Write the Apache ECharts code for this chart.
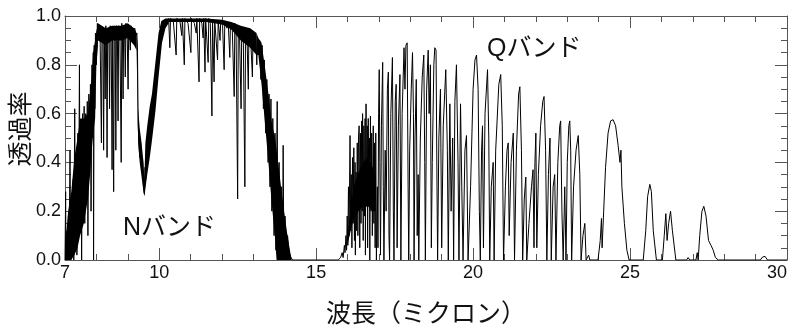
<!DOCTYPE html>
<html>
<head>
<meta charset="utf-8">
<script src="https://cdn.jsdelivr.net/npm/echarts@6/dist/echarts.min.js"></script>
<style>
  html, body { margin: 0; padding: 0; background: #fff; }
  #chart { width: 793px; height: 328px; }
</style>
</head>
<body>
<div id="chart"></div>
<script>
// 透過率スペクトル (波長 µm, 透過率) 画像から読み取った値
var nRiseLine = [[7.00,0.00],[7.02,0.28],[7.03,0.00],[7.06,0.12],[7.08,0.00],[7.11,0.18],[7.13,0.02],[7.16,0.45],[7.18,0.00],[7.21,0.25],[7.23,0.03],[7.26,0.33],[7.28,0.00],[7.31,0.62],[7.33,0.05],[7.36,0.40],[7.38,0.02],[7.41,0.52],[7.43,0.08],[7.46,0.80],[7.48,0.12],[7.50,0.55],[7.53,0.00],[7.56,0.60],[7.58,0.20],[7.61,0.63],[7.63,0.15],[7.66,0.60],[7.68,0.25],[7.71,0.65],[7.73,0.10],[7.76,0.68],[7.78,0.35],[7.81,0.72],[7.83,0.20],[7.86,0.80],[7.88,0.50],[7.90,0.85],[7.91,0.00],[7.93,0.88],[7.95,0.62],[7.97,0.93],[8.00,0.80],[8.03,0.97],[8.06,0.92]]
var nPlateauLine = [[8.08,0.96],[8.12,0.90],[8.16,0.48],[8.18,0.95],[8.21,0.90],[8.23,0.45],[8.25,0.94],[8.28,0.66],[8.30,0.96],[8.32,0.90],[8.34,0.42],[8.36,0.95],[8.40,0.91],[8.42,0.62],[8.44,0.96],[8.47,0.92],[8.50,0.37],[8.52,0.94],[8.55,0.28],[8.57,0.95],[8.60,0.91],[8.62,0.45],[8.64,0.96],[8.67,0.90],[8.69,0.57],[8.71,0.96],[8.75,0.92],[8.79,0.40],[8.81,0.97],[8.83,0.91],[8.85,0.66],[8.87,0.96],[8.90,0.92],[8.92,0.75],[8.94,0.97],[8.98,0.93],[9.01,0.70],[9.03,0.96],[9.06,0.92],[9.08,0.86],[9.10,0.96],[9.14,0.91],[9.17,0.95],[9.19,0.89],[9.22,0.95],[9.26,0.92],[9.29,0.93]]
var ozoneLine = [[9.31,0.85],[9.33,0.55],[9.35,0.50],[9.38,0.42],[9.41,0.48],[9.44,0.36],[9.47,0.42],[9.50,0.30],[9.53,0.27],[9.55,0.38],[9.57,0.33],[9.60,0.48],[9.63,0.39],[9.67,0.55],[9.71,0.47],[9.76,0.62],[9.80,0.56],[9.85,0.72],[9.90,0.70],[9.95,0.85],[10.00,0.82],[10.05,0.94],[10.10,0.92],[10.15,0.98],[10.22,0.96],[10.30,0.99]]
var nTopLine = [[10.34,0.87],[10.36,0.99],[10.45,0.98],[10.54,0.84],[10.56,0.99],[10.66,0.98],[10.72,0.92],[10.74,0.99],[10.80,0.80],[10.82,0.99],[10.92,0.97],[11.01,0.85],[11.03,0.99],[11.12,0.97],[11.18,0.93],[11.20,0.99],[11.27,0.73],[11.29,0.99],[11.36,0.97],[11.40,0.91],[11.42,0.99],[11.46,0.77],[11.48,0.99],[11.56,0.81],[11.58,0.99],[11.63,0.97],[11.68,0.59],[11.70,0.98],[11.75,0.73],[11.77,0.98],[11.86,0.82],[11.88,0.98],[11.94,0.90],[11.96,0.98],[12.02,0.96],[12.07,0.78],[12.09,0.98],[12.16,0.95],[12.20,0.97],[12.25,0.83],[12.27,0.97],[12.33,0.94],[12.39,0.67],[12.41,0.97],[12.45,0.93],[12.50,0.25],[12.52,0.96],[12.56,0.92],[12.61,0.62],[12.63,0.95],[12.68,0.91],[12.73,0.30],[12.75,0.95],[12.80,0.90],[12.84,0.70],[12.86,0.94],[12.92,0.89],[12.97,0.75],[12.99,0.93],[13.04,0.88],[13.08,0.92],[13.11,0.80],[13.13,0.91]]
var nFallLine = [[13.16,0.86],[13.20,0.90],[13.24,0.74],[13.28,0.88],[13.32,0.62],[13.35,0.82],[13.39,0.52],[13.43,0.74],[13.47,0.40],[13.50,0.68],[13.53,0.30],[13.56,0.66],[13.59,0.20],[13.62,0.58],[13.66,0.10],[13.69,0.52],[13.72,0.04],[13.76,0.65],[13.78,0.00],[13.82,0.40],[13.86,0.02],[13.90,0.30],[13.93,0.00],[13.95,0.47],[13.97,0.05],[14.01,0.18],[14.05,0.00],[14.09,0.10],[14.14,0.03],[14.20,0.01],[14.25,0.00],[15.70,0.00]]
var qRiseLine = [[15.78,0.01],[15.83,0.03],[15.86,0.01],[15.90,0.06],[15.92,0.03],[15.95,0.10],[15.97,0.04],[15.99,0.18],[16.01,0.06],[16.03,0.30],[16.05,0.10],[16.08,0.51],[16.10,0.12],[16.12,0.35],[16.14,0.05],[16.16,0.42],[16.18,0.15],[16.20,0.46],[16.22,0.08],[16.24,0.40],[16.25,0.02],[16.27,0.36],[16.29,0.12],[16.31,0.48],[16.33,0.10],[16.35,0.50],[16.37,0.55],[16.39,0.05],[16.41,0.52],[16.43,0.15],[16.45,0.57],[16.47,0.20],[16.48,0.60],[16.50,0.08],[16.52,0.55],[16.54,0.18],[16.56,0.58],[16.57,0.02],[16.59,0.64],[16.61,0.22],[16.63,0.55],[16.64,0.05],[16.66,0.58],[16.68,0.25],[16.70,0.50],[16.71,0.00],[16.73,0.59],[16.75,0.20],[16.77,0.52],[16.79,0.10],[16.82,0.55],[16.84,0.15],[16.86,0.48],[16.88,0.05],[16.90,0.52],[16.92,0.00],[16.95,0.30],[16.97,0.05]]
var qPeaksLine = [[16.99,0.60],[17.01,0.78],[17.03,0.40],[17.05,0.02],[17.08,0.55],[17.12,0.81],[17.14,0.30],[17.16,0.00],[17.20,0.45],[17.23,0.20],[17.27,0.70],[17.30,0.77],[17.32,0.10],[17.34,0.00],[17.38,0.60],[17.43,0.83],[17.46,0.20],[17.48,0.00],[17.52,0.65],[17.55,0.72],[17.58,0.05],[17.62,0.55],[17.67,0.76],[17.70,0.00],[17.74,0.60],[17.80,0.87],[17.83,0.70],[17.86,0.88],[17.90,0.89],[17.93,0.30],[17.95,0.00],[17.98,0.45],[18.03,0.70],[18.07,0.85],[18.10,0.60],[18.12,0.00],[18.15,0.50],[18.19,0.74],[18.22,0.10],[18.25,0.35],[18.27,0.00],[18.32,0.50],[18.38,0.75],[18.43,0.84],[18.46,0.40],[18.48,0.00],[18.52,0.70],[18.57,0.86],[18.60,0.60],[18.64,0.80],[18.67,0.05],[18.70,0.40],[18.75,0.80],[18.78,0.87],[18.82,0.86],[18.85,0.30],[18.87,0.00],[18.91,0.50],[18.96,0.70],[19.00,0.05],[19.05,0.55],[19.13,0.78],[19.18,0.45],[19.21,0.00],[19.26,0.64],[19.30,0.20],[19.35,0.50],[19.38,0.00],[19.42,0.65],[19.47,0.80],[19.52,0.40],[19.55,0.00],[19.60,0.64],[19.64,0.30],[19.68,0.00],[19.74,0.45],[19.79,0.51],[19.84,0.00],[19.92,0.30],[20.00,0.70],[20.06,0.82],[20.11,0.84],[20.16,0.70],[20.20,0.20],[20.23,0.00],[20.27,0.45],[20.30,0.55],[20.33,0.05],[20.38,0.60],[20.46,0.78],[20.50,0.50],[20.53,0.00],[20.58,0.30],[20.64,0.40],[20.67,0.00],[20.72,0.45],[20.82,0.72],[20.88,0.76],[20.93,0.55],[20.97,0.00],[21.03,0.30],[21.08,0.45],[21.12,0.48],[21.15,0.10],[21.21,0.40],[21.28,0.52],[21.32,0.00],[21.38,0.45],[21.45,0.68],[21.49,0.71],[21.54,0.45],[21.58,0.00],[21.63,0.25],[21.68,0.34],[21.71,0.00],[21.78,0.15],[21.86,0.30],[21.91,0.37],[21.94,0.05],[21.97,0.40],[22.00,0.52],[22.03,0.05],[22.08,0.35],[22.15,0.55],[22.22,0.65],[22.26,0.67],[22.31,0.45],[22.35,0.00],[22.40,0.35],[22.45,0.50],[22.49,0.00],[22.55,0.30],[22.60,0.35],[22.64,0.00],[22.70,0.40],[22.76,0.55],[22.79,0.57],[22.83,0.20],[22.87,0.00],[22.92,0.30],[22.96,0.00],[23.00,0.40],[23.05,0.55],[23.08,0.57],[23.11,0.45],[23.14,0.00],[23.20,0.30],[23.28,0.45],[23.35,0.51],[23.40,0.35],[23.44,0.00],[23.50,0.10],[23.56,0.15],[23.60,0.00],[23.68,0.02],[23.72,0.00]]
var qTailLine = [[23.98,0.00],[24.05,0.08],[24.09,0.17],[24.11,0.05],[24.16,0.20],[24.22,0.38],[24.30,0.52],[24.38,0.57],[24.46,0.575],[24.54,0.55],[24.62,0.47],[24.68,0.40],[24.71,0.45],[24.74,0.30],[24.82,0.15],[24.90,0.04],[24.97,0.00],[25.42,0.00],[25.50,0.12],[25.56,0.26],[25.63,0.31],[25.68,0.28],[25.74,0.12],[25.84,0.00],[26.03,0.00],[26.09,0.10],[26.14,0.19],[26.18,0.08],[26.23,0.15],[26.29,0.20],[26.35,0.12],[26.46,0.00],[26.80,0.00],[26.85,0.01],[26.90,0.00],[27.10,0.00],[27.14,0.03],[27.17,0.00],[27.22,0.10],[27.29,0.20],[27.35,0.22],[27.42,0.18],[27.50,0.08],[27.58,0.06],[27.65,0.04],[27.72,0.01],[27.81,0.00],[29.15,0.00],[29.22,0.012],[29.30,0.015],[29.38,0.00],[29.88,0.00],[29.92,0.005],[29.96,0.00],[30.00,0.00]]

// 線が密集して黒く塗りつぶされて見える部分 (上側と下側の包絡線)
var nRiseUpper = [[7.00,0.05],[7.10,0.20],[7.20,0.28],[7.30,0.42],[7.40,0.50],[7.48,0.58],[7.60,0.58],[7.73,0.60],[7.80,0.68],[7.85,0.76],[7.90,0.85],[7.96,0.90],[8.00,0.94],[8.05,0.96]]
var nRiseLower = [[7.00,0.00],[7.10,0.00],[7.20,0.00],[7.30,0.02],[7.40,0.05],[7.48,0.10],[7.60,0.15],[7.73,0.25],[7.80,0.35],[7.85,0.45],[7.90,0.52],[7.96,0.58],[8.00,0.80],[8.05,0.88]]
var nPlateauUpper = [[8.05,0.97],[8.30,0.95],[8.50,0.96],[8.80,0.96],[9.00,0.97],[9.20,0.95],[9.28,0.93]]
var nPlateauLower = [[8.05,0.90],[8.30,0.88],[8.50,0.90],[8.80,0.90],[9.00,0.91],[9.20,0.88],[9.28,0.86]]
var ozoneUpper = [[9.28,0.93],[9.31,0.88],[9.33,0.62],[9.38,0.54],[9.44,0.48],[9.50,0.40],[9.53,0.33],[9.56,0.48],[9.62,0.55],[9.70,0.63],[9.77,0.68],[9.88,0.81],[9.98,0.93],[10.07,0.98],[10.20,0.99],[10.30,0.99]]
var ozoneLower = [[9.28,0.86],[9.31,0.66],[9.33,0.48],[9.38,0.40],[9.44,0.34],[9.50,0.28],[9.53,0.26],[9.57,0.30],[9.62,0.35],[9.70,0.42],[9.77,0.49],[9.88,0.61],[9.98,0.75],[10.09,0.89],[10.20,0.95],[10.30,0.97]]
var nTopUpper = [[10.30,0.99],[11.00,0.99],[11.50,0.99],[12.00,0.985],[12.30,0.975],[12.60,0.96],[12.90,0.95],[13.10,0.93]]
var nTopLower = [[10.30,0.975],[11.00,0.975],[11.50,0.975],[12.00,0.965],[12.30,0.945],[12.60,0.90],[12.90,0.87],[13.10,0.84]]
var nFallUpper = [[13.10,0.93],[13.16,0.91],[13.26,0.89],[13.37,0.79],[13.48,0.68],[13.58,0.57],[13.69,0.50],[13.79,0.40],[13.90,0.28],[14.01,0.17],[14.11,0.08],[14.22,0.00]]
var nFallLower = [[13.10,0.84],[13.16,0.84],[13.26,0.72],[13.37,0.56],[13.48,0.40],[13.58,0.24],[13.69,0.09],[13.74,0.00],[14.22,0.00]]
var qRiseUpper = [[16.00,0.10],[16.10,0.22],[16.20,0.30],[16.35,0.36],[16.50,0.40],[16.65,0.42],[16.80,0.38],[16.90,0.34]]
var qRiseLower = [[16.00,0.06],[16.10,0.12],[16.20,0.17],[16.35,0.20],[16.50,0.22],[16.65,0.22],[16.80,0.20],[16.90,0.20]]

var xLabelValues = [7, 10, 15, 20, 25, 30]
var xMajorTicks = [10, 15, 20, 25]

var spectrum = [].concat(nRiseLine, nPlateauLine, ozoneLine, nTopLine, nFallLine, qRiseLine, qPeaksLine, qTailLine)
var bands = [
    [nRiseUpper, nRiseLower],
    [nPlateauUpper, nPlateauLower],
    [ozoneUpper, ozoneLower],
    [nTopUpper, nTopLower],
    [nFallUpper, nFallLower],
    [qRiseUpper, qRiseLower],
]

var frameColor = '#555'
var latinFont = "'Liberation Sans', 'Noto Sans CJK JP', sans-serif"
var cjkFont = "'Noto Sans CJK JP', sans-serif"

function xAx(pos, opts) {
    return Object.assign({
        type: 'value',
        min: 7,
        max: 30,
        position: pos,
        splitLine: { show: false },
        axisLine: { show: false, onZero: false, lineStyle: { color: frameColor } },
        axisLabel: { show: false },
    }, opts)
}

var myChart = echarts.init(document.getElementById('chart'))
var option = {
    animation: false,
    grid: { left: 65, right: 6, top: 16, bottom: 68, containLabel: false, outerBoundsMode: 'none' },
    xAxis: [
        xAx('bottom', {
            interval: 1,
            axisLine: { show: true, onZero: false, lineStyle: { color: frameColor } },
            axisTick: { inside: true, length: 6, lineStyle: { color: frameColor } },
            axisLabel: { customValues: xLabelValues, margin: 4, fontSize: 18, color: '#111', fontFamily: latinFont, alignMaxLabel: 'right' },
            name: '波長（ミクロン）',
            nameLocation: 'middle',
            nameGap: 40,
            nameTextStyle: { fontSize: 25, color: '#111', fontFamily: cjkFont },
        }),
        xAx('bottom', {
            axisTick: { customValues: xMajorTicks, inside: true, length: 12, lineStyle: { color: frameColor } },
        }),
        xAx('top', {
            interval: 1,
            axisLine: { show: true, onZero: false, lineStyle: { color: frameColor } },
            axisTick: { inside: true, length: 6, lineStyle: { color: frameColor } },
        }),
        xAx('top', {
            axisTick: { customValues: xMajorTicks, inside: true, length: 12, lineStyle: { color: frameColor } },
        }),
    ],
    yAxis: [
        {
            type: 'value',
            min: 0,
            max: 1,
            interval: 0.2,
            position: 'left',
            splitLine: { show: false },
            axisLine: { show: true, lineStyle: { color: frameColor } },
            axisTick: { inside: true, length: 12, lineStyle: { color: frameColor } },
            minorTick: { show: true, splitNumber: 4, length: 6, lineStyle: { color: frameColor } },
            axisLabel: {
                margin: 4,
                fontSize: 18,
                color: '#111',
                fontFamily: latinFont,
                formatter: function(v) {
                    return v.toFixed(1)
                },
            },
        },
        {
            type: 'value',
            min: 0,
            max: 1,
            interval: 0.2,
            position: 'right',
            splitLine: { show: false },
            axisLine: { show: true, lineStyle: { color: frameColor } },
            axisTick: { inside: true, length: 12, lineStyle: { color: frameColor } },
            minorTick: { show: true, splitNumber: 4, length: 6, lineStyle: { color: frameColor } },
            axisLabel: { show: false },
        },
    ],
    graphic: [
        {
            type: 'text',
            x: 19,
            y: 129,
            rotation: Math.PI / 2,
            style: { text: '透過率', font: '25px ' + cjkFont, fill: '#111', textAlign: 'center', textVerticalAlign: 'middle' },
        },
        { type: 'text', left: 123, top: 216, style: { text: 'Nバンド', font: '25px ' + latinFont, fill: '#111' } },
        { type: 'text', left: 487, top: 37, style: { text: 'Qバンド', font: '25px ' + latinFont, fill: '#111' } },
    ],
    series: [
        {
            type: 'custom',
            xAxisIndex: 0,
            yAxisIndex: 0,
            clip: true,
            silent: true,
            data: bands.map(function(b, i) {
                return [b[0][0][0], b[0][0][1], i]
            }),
            encode: { x: 0, y: 1 },
            renderItem: function(params, api) {
                var b = bands[params.dataIndex]
                var pts = b[0].concat(b[1].slice().reverse()).map(function(p) {
                    return api.coord(p)
                })
                return { type: 'polygon', shape: { points: pts }, style: { fill: '#000' } }
            },
        },
        {
            type: 'line',
            xAxisIndex: 0,
            yAxisIndex: 0,
            data: spectrum,
            showSymbol: false,
            clip: true,
            silent: true,
            lineStyle: { color: '#000', width: 1 },
        },
    ],
}
myChart.setOption(option)
</script>
</body>
</html>
